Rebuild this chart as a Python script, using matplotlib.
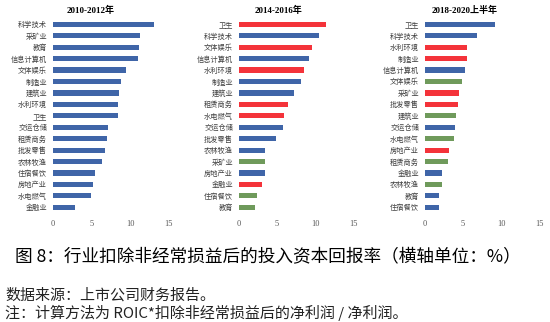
import matplotlib
matplotlib.use("Agg")
import matplotlib.pyplot as plt

plt.rcParams['font.family'] = ['Noto Sans CJK SC', 'DejaVu Sans']

titles = ["2010-2012年", "2014-2016年", "2018-2020上半年"]

cats1 = ["科学技术", "采矿业", "教育", "信息计算机", "文体娱乐", "制造业", "建筑业", "水利环境",
         "卫生", "交运仓储", "租赁商务", "批发零售", "农林牧渔", "住宿餐饮", "房地产业", "水电燃气", "金融业"]
vals1 = [13.1, 11.3, 11.2, 11.05, 9.45, 8.8, 8.57, 8.5, 8.4, 7.1, 7.0, 6.77, 6.4, 5.45, 5.15, 4.97, 2.85]
cols1 = ["b"] * 17

cats2 = ["卫生", "科学技术", "文体娱乐", "信息计算机", "水利环境", "制造业", "建筑业", "租赁商务",
         "水电燃气", "交运仓储", "批发零售", "农林牧渔", "采矿业", "房地产业", "金融业", "住宿餐饮", "教育"]
vals2 = [11.43, 10.48, 9.6, 9.2, 8.5, 8.1, 7.26, 6.43, 5.9, 5.8, 4.87, 3.4, 3.4, 3.4, 3.04, 2.43, 2.17]
cols2 = ["r", "b", "r", "b", "r", "b", "b", "r", "r", "b", "b", "b", "g", "b", "r", "g", "g"]

cats3 = ["卫生", "科学技术", "水利环境", "制造业", "信息计算机", "文体娱乐", "采矿业", "批发零售",
         "建筑业", "交运仓储", "水电燃气", "房地产业", "租赁商务", "金融业", "农林牧渔", "教育", "住宿餐饮"]
vals3 = [9.25, 6.85, 5.58, 5.5, 5.23, 4.84, 4.54, 4.4, 4.1, 4.0, 3.88, 3.18, 3.0, 2.31, 2.27, 1.92, 1.88]
cols3 = ["b", "b", "r", "r", "b", "g", "r", "r", "g", "b", "g", "r", "g", "b", "g", "b", "b"]

xticks = [0, 5, 10, 15]
caption = "图 8：行业扣除非经常损益后的投入资本回报率（横轴单位：%）"
source = "数据来源：上市公司财务报告。"
note = "注：计算方法为 ROIC*扣除非经常损益后的净利润 / 净利润。"

palette = {"b": "#3F65A8", "r": "#F4333A", "g": "#6F9A5B"}

W, H = 550, 322
fig = plt.figure(figsize=(W / 100, H / 100), dpi=100)

lefts = [52.7, 238.7, 424.7]
rights = [168.7, 353.7, 539.3]
top_px, bot_px = 18.6, 213.0
title_x = [90.7, 278.0, 465.0]

data = [(cats1, vals1, cols1), (cats2, vals2, cols2), (cats3, vals3, cols3)]
serif = ['Liberation Serif', 'Noto Sans CJK SC']

for i, (cats, vals, cols) in enumerate(data):
    ax = fig.add_axes([lefts[i] / W, 1 - bot_px / H, (rights[i] - lefts[i]) / W, (bot_px - top_px) / H])
    y = list(range(len(cats)))
    ax.barh(y, vals, height=0.45, color=[palette[c] for c in cols])
    ax.set_ylim(len(cats) - 0.5, -0.5)
    ax.set_xlim(0, 15)
    ax.set_yticks(y)
    ax.set_yticklabels(cats, fontsize=5.2, color='#404040')
    ax.set_xticks(xticks)
    ax.set_xticklabels([str(t) for t in xticks], fontsize=6, family=serif, color='#595959')
    ax.tick_params(length=0, axis='y', pad=4)
    ax.tick_params(length=0, axis='x', pad=5)
    for s in ax.spines.values():
        s.set_visible(False)
    fig.text(title_x[i] / W, 1 - 10 / H, titles[i], ha='center', va='center',
             fontsize=6.5, fontweight='bold', family=serif)

fig.text(15 / W, 1 - 256.7 / H, caption, ha='left', va='center', fontsize=12.7)
fig.text(5 / W, 1 - 295 / H, source, ha='left', va='center', fontsize=10.8, color='#222222')
fig.text(5 / W, 1 - 313 / H, note, ha='left', va='center', fontsize=10.8, color='#222222')

fig.savefig("out.png", dpi=100)
